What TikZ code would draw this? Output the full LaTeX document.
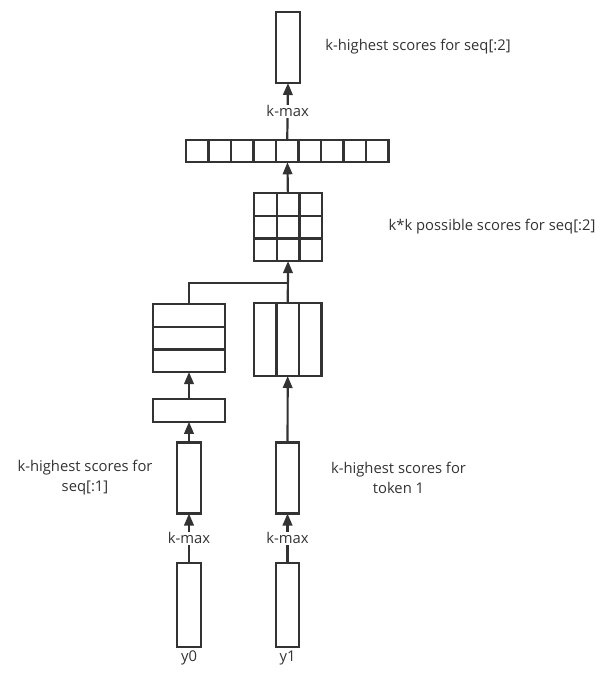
\documentclass[tikz,border=0pt]{standalone}
\usepackage{fontspec}
\setmainfont{Open Sans}
\usepackage{tikz}
\usetikzlibrary{arrows.meta,positioning}
\definecolor{ink}{HTML}{333333}

\begin{document}
\begin{tikzpicture}[
    x=1pt, y=-1pt,
    cell/.style={rectangle, draw=ink, line width=2.2pt, minimum width=22.6pt, minimum height=22.6pt, inner sep=0pt, outer sep=0pt},
    vec/.style={cell, minimum width=23.5pt, minimum height=71pt},
    lbl/.style={text=ink, align=center, font=\fontsize{14.8}{20}\selectfont, inner sep=1pt},
    arr/.style={-{Triangle[length=12pt, width=9.5pt]}, draw=ink, line width=2.2pt}
]
\useasboundingbox (0,0) rectangle (615,677);

% inputs
\node[vec, minimum height=84pt] (y0vec) at (189,605) {};
\node[vec, minimum height=84pt] (y1vec) at (287.5,605) {};
\node[lbl, below=3pt of y0vec] (y0) {y0};
\node[lbl, below=3pt of y1vec] (y1) {y1};

% k-highest per step
\node[vec] (topL) at (189,478) {};
\node[vec] (topR) at (287.5,478) {};
\node[cell, minimum width=72pt] (expand) at (189,410.5) {};

% k x 1 and 1 x k
\foreach \i in {1,2,3}
    \node[cell, minimum width=72pt] (stk\i) at (189,{304+22.7*(\i-0.5)}) {};
\foreach \i in {1,2,3}
    \node[cell, minimum height=73pt] (col\i) at ({254+22.5*(\i-0.5)},339.5) {};

% k*k grid
\foreach \i in {1,2,3}
    \foreach \j in {1,2,3}
        \node[cell] (g\i\j) at ({254+22.7*(\j-0.5)},{193+22.7*(\i-0.5)}) {};

% flattened row
\foreach \i in {1,...,9}
    \node[cell, minimum width=22.5pt] (r\i) at ({186+22.5*(\i-0.5)},151) {};

\node[vec] (best) at (288,47.5) {};

\coordinate (join) at (287.5,283);

\draw[arr] (y0vec.north) -- node[lbl, fill=white]{k-max} (topL.south);
\draw[arr] (y1vec.north) -- node[lbl, fill=white]{k-max} (topR.south);
\draw[arr] (topL) -- (expand);
\draw[arr] (expand) -- (stk3);
\draw[arr] (topR) -- (col2);
\draw[ink, line width=2.2pt] (stk1.north) |- (join);
\draw[arr] (col2.north) -- (g32.south);
\draw[arr] (g12) -- (r5);
\draw[arr] (r5.north) -- node[lbl, fill=white]{k-max} (best.south);

\node[lbl] (bestlbl) at (418,47) {k-highest scores for seq[:2]};
\node[lbl] (gridlbl) at (492,227) {k*k possible scores for seq[:2]};
\node[lbl] (leftlbl) at (85,478) {k-highest scores for\\seq[:1]};
\node[lbl] (rightlbl) at (398.5,478) {k-highest scores for\\token 1};

\end{tikzpicture}
\end{document}
